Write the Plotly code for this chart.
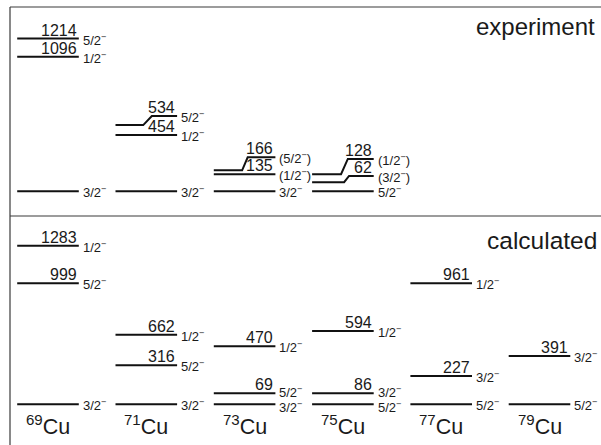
import plotly.graph_objects as go

# ---------------- data ----------------
nuclei_mass = ["69", "71", "73", "75", "77", "79"]

# experiment: nucleus index, energy (keV), spin, drawn height, height of the labelled (right) segment
exp_nuc = [0, 0, 0, 1, 1, 1, 2, 2, 2, 3, 3, 3]
exp_energy = [0, 1096, 1214, 0, 454, 534, 0, 135, 166, 0, 62, 128]
exp_spin = ["3/2", "1/2", "5/2", "3/2", "1/2", "5/2", "3/2", "(1/2", "(5/2", "5/2", "(3/2", "(1/2"]
exp_drawn = [0, 1090, 1237, 0, 455, 536, 0, 139, 170, 0, 74, 138]
exp_label_h = [0, 1090, 1237, 0, 455, 610, 0, 139, 275, 0, 124, 262]

# calculated
calc_nuc = [0, 0, 0, 1, 1, 1, 2, 2, 2, 3, 3, 3, 4, 4, 4, 5, 5]
calc_energy = [0, 999, 1283, 0, 316, 662, 0, 69, 470, 0, 86, 594, 0, 227, 961, 0, 391]
calc_spin = ["3/2", "5/2", "1/2", "3/2", "5/2", "1/2", "3/2", "5/2", "1/2",
             "5/2", "3/2", "1/2", "5/2", "3/2", "1/2", "5/2", "3/2"]
calc_drawn = [0, 980, 1284, 0, 316, 564, 0, 89, 470, 0, 89, 594, 0, 229, 980, 0, 391]

# ---------------- layout constants ----------------
W, H = 601, 445
PX_PER_KEV = 0.1235
X0_PX, DX_PX, HALF_PX = 48.0, 98.3, 30.8
EXP_BASE_PX, CALC_BASE_PX = 191.3, 404.3
HALF = HALF_PX / DX_PX
TXT = "#1a1a1a"
FONT = "Liberation Sans, Arial, Helvetica, sans-serif"

# kink fractions for the shifted levels (style)
kink = {5: (0.45, 0.59), 8: (0.46, 0.55), 10: (0.52, 0.60), 11: (0.47, 0.58)}


def spin_text(s):
    txt = s + "<sup>−</sup>"
    if s.startswith("("):
        txt += ")"
    return txt


fig = go.Figure()
annotations = []

# experiment lines
xs, ys = [], []
for k, (n, d, L) in enumerate(zip(exp_nuc, exp_drawn, exp_label_h)):
    xa, xb = n - HALF, n + HALF
    if k in kink:
        f1, f2 = kink[k]
        w = xb - xa
        xs += [xa, xa + f1 * w, xa + f2 * w, xb, None]
        ys += [d, d, L, L, None]
    else:
        xs += [xa, xb, None]
        ys += [d, d, None]
fig.add_trace(go.Scatter(x=xs, y=ys, mode="lines", yaxis="y2",
                         line=dict(color="#111", width=2), hoverinfo="skip", showlegend=False))

# calculated lines
xs, ys = [], []
for n, d in zip(calc_nuc, calc_drawn):
    xs += [n - HALF, n + HALF, None]
    ys += [d, d, None]
fig.add_trace(go.Scatter(x=xs, y=ys, mode="lines", yaxis="y",
                         line=dict(color="#111", width=2), hoverinfo="skip", showlegend=False))


def add_labels(nuc, energy, spin, height, yref):
    for k, (n, e, s, h) in enumerate(zip(nuc, energy, spin, height)):
        # nudge spin labels of close-lying levels apart
        ys_shift = -1
        for j, (n2, h2) in enumerate(zip(nuc, height)):
            if j != k and n2 == n and abs(h2 - h) < 120:
                ys_shift += 2 if h > h2 else -2
        if e > 0:
            annotations.append(dict(x=n + HALF, y=h, xref="x", yref=yref, text=str(e),
                                    xanchor="right", yanchor="bottom", showarrow=False,
                                    xshift=0, yshift=-2, font=dict(family=FONT, size=16, color=TXT)))
        annotations.append(dict(x=n + HALF, y=h, xref="x", yref=yref, text=spin_text(s),
                                xanchor="left", yanchor="middle", showarrow=False,
                                xshift=2, yshift=ys_shift, font=dict(family=FONT, size=13, color=TXT)))


add_labels(exp_nuc, exp_energy, exp_spin, exp_label_h, "y2")
add_labels(calc_nuc, calc_energy, calc_spin, calc_drawn, "y")

for i, m in enumerate(nuclei_mass):
    annotations.append(dict(x=i, y=0, xref="x", yref="y",
                            text="<sup>" + m + "</sup>Cu",
                            xanchor="center", yanchor="top", showarrow=False, yshift=-5,
                            font=dict(family=FONT, size=21.5, color=TXT)))

annotations.append(dict(x=597 / W, y=1 - 27 / H, xref="paper", yref="paper", text="experiment",
                        xanchor="right", yanchor="middle", showarrow=False,
                        font=dict(family=FONT, size=24, color=TXT)))
annotations.append(dict(x=599 / W, y=1 - 240 / H, xref="paper", yref="paper", text="calculated",
                        xanchor="right", yanchor="middle", showarrow=False,
                        font=dict(family=FONT, size=24.5, color=TXT)))

frame = dict(color="#3a3a3a", width=1.2)
shapes = [
    dict(type="line", xref="paper", yref="paper", x0=10 / W, x1=1, y0=1 - 7 / H, y1=1 - 7 / H, line=frame),
    dict(type="line", xref="paper", yref="paper", x0=10 / W, x1=10 / W, y0=1 - 7 / H, y1=0, line=frame),
    dict(type="line", xref="paper", yref="paper", x0=10 / W, x1=1, y0=1 - 216 / H, y1=1 - 216 / H, line=frame),
]

fig.update_layout(
    width=W, height=H, autosize=False,
    margin=dict(l=0, r=0, t=0, b=0),
    paper_bgcolor="white", plot_bgcolor="white",
    xaxis=dict(range=[-X0_PX / DX_PX, (W - X0_PX) / DX_PX], visible=False, fixedrange=True),
    yaxis=dict(range=[-(H - CALC_BASE_PX) / PX_PER_KEV, CALC_BASE_PX / PX_PER_KEV],
               visible=False, domain=[0, 1], fixedrange=True),
    yaxis2=dict(range=[-(H - EXP_BASE_PX) / PX_PER_KEV, EXP_BASE_PX / PX_PER_KEV],
                visible=False, overlaying="y", fixedrange=True),
    annotations=annotations,
    shapes=shapes,
    showlegend=False,
)

fig.write_html("out.html")
